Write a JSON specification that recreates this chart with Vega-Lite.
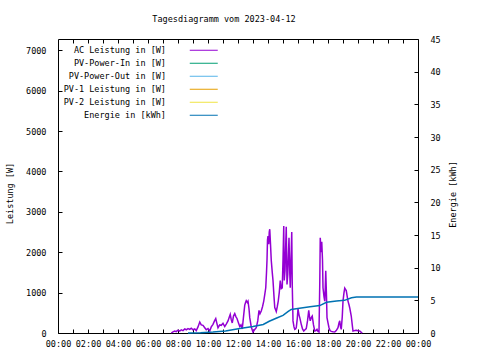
{
  "$schema": "https://vega.github.io/schema/vega-lite/v6.json",
  "width": 360,
  "height": 294,
  "autosize": {"type": "none"},
  "padding": {"left": 58, "top": 39, "right": 62, "bottom": 27},
  "background": "white",
  "title": {"text": "Tagesdiagramm vom 2023-04-12", "anchor": "middle", "dx": -14, "offset": 12, "font": "DejaVu Sans Mono", "fontSize": 8.5, "fontWeight": "normal", "color": "black"},
  "datasets": {
    "power": [
      {"t": "2023-04-12T07:33", "v": 0, "s": "AC Leistung in [W]"},
      {"t": "2023-04-12T07:40", "v": 30, "s": "AC Leistung in [W]"},
      {"t": "2023-04-12T07:47", "v": 50, "s": "AC Leistung in [W]"},
      {"t": "2023-04-12T07:53", "v": 35, "s": "AC Leistung in [W]"},
      {"t": "2023-04-12T08:00", "v": 70, "s": "AC Leistung in [W]"},
      {"t": "2023-04-12T08:07", "v": 45, "s": "AC Leistung in [W]"},
      {"t": "2023-04-12T08:13", "v": 80, "s": "AC Leistung in [W]"},
      {"t": "2023-04-12T08:20", "v": 60, "s": "AC Leistung in [W]"},
      {"t": "2023-04-12T08:27", "v": 100, "s": "AC Leistung in [W]"},
      {"t": "2023-04-12T08:33", "v": 80, "s": "AC Leistung in [W]"},
      {"t": "2023-04-12T08:40", "v": 110, "s": "AC Leistung in [W]"},
      {"t": "2023-04-12T08:47", "v": 90, "s": "AC Leistung in [W]"},
      {"t": "2023-04-12T08:53", "v": 120, "s": "AC Leistung in [W]"},
      {"t": "2023-04-12T09:00", "v": 80, "s": "AC Leistung in [W]"},
      {"t": "2023-04-12T09:07", "v": 100, "s": "AC Leistung in [W]"},
      {"t": "2023-04-12T09:13", "v": 60, "s": "AC Leistung in [W]"},
      {"t": "2023-04-12T09:20", "v": 150, "s": "AC Leistung in [W]"},
      {"t": "2023-04-12T09:27", "v": 270, "s": "AC Leistung in [W]"},
      {"t": "2023-04-12T09:33", "v": 200, "s": "AC Leistung in [W]"},
      {"t": "2023-04-12T09:40", "v": 190, "s": "AC Leistung in [W]"},
      {"t": "2023-04-12T09:47", "v": 130, "s": "AC Leistung in [W]"},
      {"t": "2023-04-12T09:53", "v": 80, "s": "AC Leistung in [W]"},
      {"t": "2023-04-12T10:00", "v": 110, "s": "AC Leistung in [W]"},
      {"t": "2023-04-12T10:07", "v": 50, "s": "AC Leistung in [W]"},
      {"t": "2023-04-12T10:13", "v": 150, "s": "AC Leistung in [W]"},
      {"t": "2023-04-12T10:20", "v": 215, "s": "AC Leistung in [W]"},
      {"t": "2023-04-12T10:26", "v": 300, "s": "AC Leistung in [W]"},
      {"t": "2023-04-12T10:31", "v": 355, "s": "AC Leistung in [W]"},
      {"t": "2023-04-12T10:35", "v": 250, "s": "AC Leistung in [W]"},
      {"t": "2023-04-12T10:40", "v": 130, "s": "AC Leistung in [W]"},
      {"t": "2023-04-12T10:47", "v": 200, "s": "AC Leistung in [W]"},
      {"t": "2023-04-12T10:53", "v": 190, "s": "AC Leistung in [W]"},
      {"t": "2023-04-12T11:00", "v": 240, "s": "AC Leistung in [W]"},
      {"t": "2023-04-12T11:07", "v": 160, "s": "AC Leistung in [W]"},
      {"t": "2023-04-12T11:13", "v": 220, "s": "AC Leistung in [W]"},
      {"t": "2023-04-12T11:20", "v": 300, "s": "AC Leistung in [W]"},
      {"t": "2023-04-12T11:25", "v": 390, "s": "AC Leistung in [W]"},
      {"t": "2023-04-12T11:29", "v": 460, "s": "AC Leistung in [W]"},
      {"t": "2023-04-12T11:33", "v": 330, "s": "AC Leistung in [W]"},
      {"t": "2023-04-12T11:37", "v": 250, "s": "AC Leistung in [W]"},
      {"t": "2023-04-12T11:42", "v": 420, "s": "AC Leistung in [W]"},
      {"t": "2023-04-12T11:47", "v": 480, "s": "AC Leistung in [W]"},
      {"t": "2023-04-12T11:52", "v": 400, "s": "AC Leistung in [W]"},
      {"t": "2023-04-12T11:56", "v": 360, "s": "AC Leistung in [W]"},
      {"t": "2023-04-12T12:02", "v": 250, "s": "AC Leistung in [W]"},
      {"t": "2023-04-12T12:07", "v": 160, "s": "AC Leistung in [W]"},
      {"t": "2023-04-12T12:12", "v": 200, "s": "AC Leistung in [W]"},
      {"t": "2023-04-12T12:17", "v": 100, "s": "AC Leistung in [W]"},
      {"t": "2023-04-12T12:22", "v": 400, "s": "AC Leistung in [W]"},
      {"t": "2023-04-12T12:27", "v": 690, "s": "AC Leistung in [W]"},
      {"t": "2023-04-12T12:30", "v": 750, "s": "AC Leistung in [W]"},
      {"t": "2023-04-12T12:33", "v": 800, "s": "AC Leistung in [W]"},
      {"t": "2023-04-12T12:37", "v": 760, "s": "AC Leistung in [W]"},
      {"t": "2023-04-12T12:40", "v": 790, "s": "AC Leistung in [W]"},
      {"t": "2023-04-12T12:44", "v": 600, "s": "AC Leistung in [W]"},
      {"t": "2023-04-12T12:47", "v": 380, "s": "AC Leistung in [W]"},
      {"t": "2023-04-12T12:53", "v": 150, "s": "AC Leistung in [W]"},
      {"t": "2023-04-12T13:00", "v": 25, "s": "AC Leistung in [W]"},
      {"t": "2023-04-12T13:06", "v": 80, "s": "AC Leistung in [W]"},
      {"t": "2023-04-12T13:13", "v": 130, "s": "AC Leistung in [W]"},
      {"t": "2023-04-12T13:19", "v": 300, "s": "AC Leistung in [W]"},
      {"t": "2023-04-12T13:24", "v": 560, "s": "AC Leistung in [W]"},
      {"t": "2023-04-12T13:28", "v": 480, "s": "AC Leistung in [W]"},
      {"t": "2023-04-12T13:33", "v": 545, "s": "AC Leistung in [W]"},
      {"t": "2023-04-12T13:38", "v": 650, "s": "AC Leistung in [W]"},
      {"t": "2023-04-12T13:43", "v": 790, "s": "AC Leistung in [W]"},
      {"t": "2023-04-12T13:47", "v": 950, "s": "AC Leistung in [W]"},
      {"t": "2023-04-12T13:51", "v": 1120, "s": "AC Leistung in [W]"},
      {"t": "2023-04-12T13:54", "v": 1500, "s": "AC Leistung in [W]"},
      {"t": "2023-04-12T13:56", "v": 1800, "s": "AC Leistung in [W]"},
      {"t": "2023-04-12T13:58", "v": 2300, "s": "AC Leistung in [W]"},
      {"t": "2023-04-12T14:00", "v": 2400, "s": "AC Leistung in [W]"},
      {"t": "2023-04-12T14:03", "v": 2200, "s": "AC Leistung in [W]"},
      {"t": "2023-04-12T14:05", "v": 2500, "s": "AC Leistung in [W]"},
      {"t": "2023-04-12T14:07", "v": 2570, "s": "AC Leistung in [W]"},
      {"t": "2023-04-12T14:10", "v": 2200, "s": "AC Leistung in [W]"},
      {"t": "2023-04-12T14:13", "v": 1800, "s": "AC Leistung in [W]"},
      {"t": "2023-04-12T14:17", "v": 1500, "s": "AC Leistung in [W]"},
      {"t": "2023-04-12T14:20", "v": 1300, "s": "AC Leistung in [W]"},
      {"t": "2023-04-12T14:24", "v": 900, "s": "AC Leistung in [W]"},
      {"t": "2023-04-12T14:27", "v": 630, "s": "AC Leistung in [W]"},
      {"t": "2023-04-12T14:30", "v": 580, "s": "AC Leistung in [W]"},
      {"t": "2023-04-12T14:33", "v": 530, "s": "AC Leistung in [W]"},
      {"t": "2023-04-12T14:37", "v": 650, "s": "AC Leistung in [W]"},
      {"t": "2023-04-12T14:41", "v": 790, "s": "AC Leistung in [W]"},
      {"t": "2023-04-12T14:45", "v": 1000, "s": "AC Leistung in [W]"},
      {"t": "2023-04-12T14:49", "v": 1300, "s": "AC Leistung in [W]"},
      {"t": "2023-04-12T14:53", "v": 1100, "s": "AC Leistung in [W]"},
      {"t": "2023-04-12T14:57", "v": 1120, "s": "AC Leistung in [W]"},
      {"t": "2023-04-12T15:00", "v": 1800, "s": "AC Leistung in [W]"},
      {"t": "2023-04-12T15:03", "v": 2650, "s": "AC Leistung in [W]"},
      {"t": "2023-04-12T15:05", "v": 1300, "s": "AC Leistung in [W]"},
      {"t": "2023-04-12T15:08", "v": 1540, "s": "AC Leistung in [W]"},
      {"t": "2023-04-12T15:10", "v": 2000, "s": "AC Leistung in [W]"},
      {"t": "2023-04-12T15:13", "v": 2630, "s": "AC Leistung in [W]"},
      {"t": "2023-04-12T15:16", "v": 1200, "s": "AC Leistung in [W]"},
      {"t": "2023-04-12T15:19", "v": 1450, "s": "AC Leistung in [W]"},
      {"t": "2023-04-12T15:22", "v": 2000, "s": "AC Leistung in [W]"},
      {"t": "2023-04-12T15:24", "v": 2360, "s": "AC Leistung in [W]"},
      {"t": "2023-04-12T15:27", "v": 1500, "s": "AC Leistung in [W]"},
      {"t": "2023-04-12T15:29", "v": 1120, "s": "AC Leistung in [W]"},
      {"t": "2023-04-12T15:32", "v": 1800, "s": "AC Leistung in [W]"},
      {"t": "2023-04-12T15:35", "v": 2500, "s": "AC Leistung in [W]"},
      {"t": "2023-04-12T15:37", "v": 1200, "s": "AC Leistung in [W]"},
      {"t": "2023-04-12T15:40", "v": 300, "s": "AC Leistung in [W]"},
      {"t": "2023-04-12T15:44", "v": 150, "s": "AC Leistung in [W]"},
      {"t": "2023-04-12T15:47", "v": 90, "s": "AC Leistung in [W]"},
      {"t": "2023-04-12T15:50", "v": 100, "s": "AC Leistung in [W]"},
      {"t": "2023-04-12T15:53", "v": 130, "s": "AC Leistung in [W]"},
      {"t": "2023-04-12T15:57", "v": 350, "s": "AC Leistung in [W]"},
      {"t": "2023-04-12T16:00", "v": 600, "s": "AC Leistung in [W]"},
      {"t": "2023-04-12T16:04", "v": 450, "s": "AC Leistung in [W]"},
      {"t": "2023-04-12T16:07", "v": 380, "s": "AC Leistung in [W]"},
      {"t": "2023-04-12T16:10", "v": 300, "s": "AC Leistung in [W]"},
      {"t": "2023-04-12T16:13", "v": 215, "s": "AC Leistung in [W]"},
      {"t": "2023-04-12T16:18", "v": 100, "s": "AC Leistung in [W]"},
      {"t": "2023-04-12T16:23", "v": 50, "s": "AC Leistung in [W]"},
      {"t": "2023-04-12T16:28", "v": 80, "s": "AC Leistung in [W]"},
      {"t": "2023-04-12T16:33", "v": 110, "s": "AC Leistung in [W]"},
      {"t": "2023-04-12T16:38", "v": 300, "s": "AC Leistung in [W]"},
      {"t": "2023-04-12T16:43", "v": 560, "s": "AC Leistung in [W]"},
      {"t": "2023-04-12T16:46", "v": 400, "s": "AC Leistung in [W]"},
      {"t": "2023-04-12T16:49", "v": 300, "s": "AC Leistung in [W]"},
      {"t": "2023-04-12T16:53", "v": 380, "s": "AC Leistung in [W]"},
      {"t": "2023-04-12T16:57", "v": 420, "s": "AC Leistung in [W]"},
      {"t": "2023-04-12T17:02", "v": 200, "s": "AC Leistung in [W]"},
      {"t": "2023-04-12T17:07", "v": 50, "s": "AC Leistung in [W]"},
      {"t": "2023-04-12T17:12", "v": 60, "s": "AC Leistung in [W]"},
      {"t": "2023-04-12T17:16", "v": 90, "s": "AC Leistung in [W]"},
      {"t": "2023-04-12T17:20", "v": 40, "s": "AC Leistung in [W]"},
      {"t": "2023-04-12T17:24", "v": 25, "s": "AC Leistung in [W]"},
      {"t": "2023-04-12T17:27", "v": 1200, "s": "AC Leistung in [W]"},
      {"t": "2023-04-12T17:29", "v": 2360, "s": "AC Leistung in [W]"},
      {"t": "2023-04-12T17:32", "v": 2000, "s": "AC Leistung in [W]"},
      {"t": "2023-04-12T17:35", "v": 2260, "s": "AC Leistung in [W]"},
      {"t": "2023-04-12T17:38", "v": 1800, "s": "AC Leistung in [W]"},
      {"t": "2023-04-12T17:40", "v": 1120, "s": "AC Leistung in [W]"},
      {"t": "2023-04-12T17:44", "v": 900, "s": "AC Leistung in [W]"},
      {"t": "2023-04-12T17:47", "v": 790, "s": "AC Leistung in [W]"},
      {"t": "2023-04-12T17:49", "v": 1100, "s": "AC Leistung in [W]"},
      {"t": "2023-04-12T17:51", "v": 1540, "s": "AC Leistung in [W]"},
      {"t": "2023-04-12T17:54", "v": 900, "s": "AC Leistung in [W]"},
      {"t": "2023-04-12T17:56", "v": 380, "s": "AC Leistung in [W]"},
      {"t": "2023-04-12T18:00", "v": 250, "s": "AC Leistung in [W]"},
      {"t": "2023-04-12T18:04", "v": 130, "s": "AC Leistung in [W]"},
      {"t": "2023-04-12T18:08", "v": 60, "s": "AC Leistung in [W]"},
      {"t": "2023-04-12T18:13", "v": 40, "s": "AC Leistung in [W]"},
      {"t": "2023-04-12T18:20", "v": 30, "s": "AC Leistung in [W]"},
      {"t": "2023-04-12T18:27", "v": 25, "s": "AC Leistung in [W]"},
      {"t": "2023-04-12T18:33", "v": 60, "s": "AC Leistung in [W]"},
      {"t": "2023-04-12T18:40", "v": 130, "s": "AC Leistung in [W]"},
      {"t": "2023-04-12T18:44", "v": 250, "s": "AC Leistung in [W]"},
      {"t": "2023-04-12T18:47", "v": 300, "s": "AC Leistung in [W]"},
      {"t": "2023-04-12T18:50", "v": 150, "s": "AC Leistung in [W]"},
      {"t": "2023-04-12T18:53", "v": 90, "s": "AC Leistung in [W]"},
      {"t": "2023-04-12T18:57", "v": 400, "s": "AC Leistung in [W]"},
      {"t": "2023-04-12T19:00", "v": 790, "s": "AC Leistung in [W]"},
      {"t": "2023-04-12T19:04", "v": 1000, "s": "AC Leistung in [W]"},
      {"t": "2023-04-12T19:07", "v": 1110, "s": "AC Leistung in [W]"},
      {"t": "2023-04-12T19:10", "v": 1080, "s": "AC Leistung in [W]"},
      {"t": "2023-04-12T19:13", "v": 1050, "s": "AC Leistung in [W]"},
      {"t": "2023-04-12T19:17", "v": 900, "s": "AC Leistung in [W]"},
      {"t": "2023-04-12T19:20", "v": 790, "s": "AC Leistung in [W]"},
      {"t": "2023-04-12T19:24", "v": 700, "s": "AC Leistung in [W]"},
      {"t": "2023-04-12T19:27", "v": 620, "s": "AC Leistung in [W]"},
      {"t": "2023-04-12T19:30", "v": 520, "s": "AC Leistung in [W]"},
      {"t": "2023-04-12T19:33", "v": 420, "s": "AC Leistung in [W]"},
      {"t": "2023-04-12T19:37", "v": 200, "s": "AC Leistung in [W]"},
      {"t": "2023-04-12T19:40", "v": 50, "s": "AC Leistung in [W]"},
      {"t": "2023-04-12T19:47", "v": 60, "s": "AC Leistung in [W]"},
      {"t": "2023-04-12T19:53", "v": 70, "s": "AC Leistung in [W]"},
      {"t": "2023-04-12T20:00", "v": 55, "s": "AC Leistung in [W]"},
      {"t": "2023-04-12T20:07", "v": 50, "s": "AC Leistung in [W]"},
      {"t": "2023-04-12T20:12", "v": 20, "s": "AC Leistung in [W]"},
      {"t": "2023-04-12T20:17", "v": 0, "s": "AC Leistung in [W]"}
    ],
    "energy": [
      {"t": "2023-04-12T08:40", "v": 0, "s": "Energie in [kWh]"},
      {"t": "2023-04-12T09:30", "v": 0.05, "s": "Energie in [kWh]"},
      {"t": "2023-04-12T10:20", "v": 0.15, "s": "Energie in [kWh]"},
      {"t": "2023-04-12T11:10", "v": 0.3, "s": "Energie in [kWh]"},
      {"t": "2023-04-12T12:07", "v": 0.7, "s": "Energie in [kWh]"},
      {"t": "2023-04-12T13:00", "v": 1.0, "s": "Energie in [kWh]"},
      {"t": "2023-04-12T13:41", "v": 1.3, "s": "Energie in [kWh]"},
      {"t": "2023-04-12T14:05", "v": 1.8, "s": "Energie in [kWh]"},
      {"t": "2023-04-12T14:35", "v": 2.3, "s": "Energie in [kWh]"},
      {"t": "2023-04-12T15:00", "v": 2.7, "s": "Energie in [kWh]"},
      {"t": "2023-04-12T15:21", "v": 3.3, "s": "Energie in [kWh]"},
      {"t": "2023-04-12T15:33", "v": 3.6, "s": "Energie in [kWh]"},
      {"t": "2023-04-12T16:06", "v": 3.8, "s": "Energie in [kWh]"},
      {"t": "2023-04-12T16:48", "v": 4.0, "s": "Energie in [kWh]"},
      {"t": "2023-04-12T17:27", "v": 4.2, "s": "Energie in [kWh]"},
      {"t": "2023-04-12T17:54", "v": 4.7, "s": "Energie in [kWh]"},
      {"t": "2023-04-12T18:34", "v": 4.9, "s": "Energie in [kWh]"},
      {"t": "2023-04-12T19:06", "v": 5.0, "s": "Energie in [kWh]"},
      {"t": "2023-04-12T19:34", "v": 5.4, "s": "Energie in [kWh]"},
      {"t": "2023-04-12T19:54", "v": 5.5, "s": "Energie in [kWh]"},
      {"t": "2023-04-13T00:00", "v": 5.5, "s": "Energie in [kWh]"}
    ]
  },
  "config": {
    "view": {"stroke": "black", "strokeWidth": 1},
    "font": "DejaVu Sans Mono",
    "axis": {
      "labelFont": "DejaVu Sans Mono", "labelFontSize": 8.5, "labelColor": "black",
      "titleFont": "DejaVu Sans Mono", "titleFontSize": 8.5, "titleFontWeight": "normal", "titleColor": "black",
      "domain": false, "grid": false, "tickColor": "black", "tickSize": -4, "labelOverlap": false, "labelFlush": false
    }
  },
  "layer": [
    {
      "data": {"name": "power"},
      "mark": {"type": "line", "strokeWidth": 1.5},
      "encoding": {
        "x": {
          "field": "t", "type": "temporal",
          "scale": {"domain": [{"year": 2023, "month": 4, "date": 12, "hours": 0}, {"year": 2023, "month": 4, "date": 13, "hours": 0}]},
          "axis": {
            "orient": "bottom", "title": null, "labelPadding": 10,
            "values": [
              {"year": 2023, "month": 4, "date": 12, "hours": 0}, {"year": 2023, "month": 4, "date": 12, "hours": 1},
              {"year": 2023, "month": 4, "date": 12, "hours": 2}, {"year": 2023, "month": 4, "date": 12, "hours": 3},
              {"year": 2023, "month": 4, "date": 12, "hours": 4}, {"year": 2023, "month": 4, "date": 12, "hours": 5},
              {"year": 2023, "month": 4, "date": 12, "hours": 6}, {"year": 2023, "month": 4, "date": 12, "hours": 7},
              {"year": 2023, "month": 4, "date": 12, "hours": 8}, {"year": 2023, "month": 4, "date": 12, "hours": 9},
              {"year": 2023, "month": 4, "date": 12, "hours": 10}, {"year": 2023, "month": 4, "date": 12, "hours": 11},
              {"year": 2023, "month": 4, "date": 12, "hours": 12}, {"year": 2023, "month": 4, "date": 12, "hours": 13},
              {"year": 2023, "month": 4, "date": 12, "hours": 14}, {"year": 2023, "month": 4, "date": 12, "hours": 15},
              {"year": 2023, "month": 4, "date": 12, "hours": 16}, {"year": 2023, "month": 4, "date": 12, "hours": 17},
              {"year": 2023, "month": 4, "date": 12, "hours": 18}, {"year": 2023, "month": 4, "date": 12, "hours": 19},
              {"year": 2023, "month": 4, "date": 12, "hours": 20}, {"year": 2023, "month": 4, "date": 12, "hours": 21},
              {"year": 2023, "month": 4, "date": 12, "hours": 22}, {"year": 2023, "month": 4, "date": 12, "hours": 23},
              {"year": 2023, "month": 4, "date": 13, "hours": 0}
            ],
            "labelExpr": "hours(datum.value) % 2 == 0 ? timeFormat(datum.value, '%H:%M') : ''"
          }
        },
        "y": {
          "field": "v", "type": "quantitative",
          "scale": {"domain": [0, 7280], "nice": false, "zero": true},
          "axis": {
            "orient": "left", "title": "Leistung [W]", "values": [0, 1000, 2000, 3000, 4000, 5000, 6000, 7000], "format": "d",
            "labelPadding": 16, "titleX": -49, "titleY": 154, "titleAngle": 270, "titleBaseline": "middle", "titleAlign": "center"
          }
        },
        "color": {
          "field": "s", "type": "nominal",
          "scale": {
            "domain": ["AC Leistung in [W]", "PV-Power-In in [W]", "PV-Power-Out in [W]", "PV-1 Leistung in [W]", "PV-2 Leistung in [W]", "Energie in [kWh]"],
            "range": ["#9400d3", "#009e73", "#56b4e9", "#e69f00", "#f0e442", "#0072b2"]
          },
          "legend": {
            "orient": "none", "legendX": 100, "legendY": 7, "title": null, "padding": 0,
            "labelAlign": "right", "labelOffset": -42, "symbolOffset": 41.5,
            "symbolType": "M-5,0H5", "symbolSize": 31.36, "symbolStrokeWidth": 1,
            "rowPadding": 4, "labelFont": "DejaVu Sans Mono", "labelFontSize": 8.5, "labelColor": "black", "labelLimit": 300
          }
        }
      }
    },
    {
      "data": {"name": "energy"},
      "mark": {"type": "line", "strokeWidth": 1.5},
      "encoding": {
        "x": {
          "field": "t", "type": "temporal",
          "axis": {
            "orient": "top", "title": null, "labels": false,
            "values": [
              {"year": 2023, "month": 4, "date": 12, "hours": 1},
              {"year": 2023, "month": 4, "date": 12, "hours": 2}, {"year": 2023, "month": 4, "date": 12, "hours": 3},
              {"year": 2023, "month": 4, "date": 12, "hours": 4}, {"year": 2023, "month": 4, "date": 12, "hours": 5},
              {"year": 2023, "month": 4, "date": 12, "hours": 6}, {"year": 2023, "month": 4, "date": 12, "hours": 7},
              {"year": 2023, "month": 4, "date": 12, "hours": 8}, {"year": 2023, "month": 4, "date": 12, "hours": 9},
              {"year": 2023, "month": 4, "date": 12, "hours": 10}, {"year": 2023, "month": 4, "date": 12, "hours": 11},
              {"year": 2023, "month": 4, "date": 12, "hours": 12}, {"year": 2023, "month": 4, "date": 12, "hours": 13},
              {"year": 2023, "month": 4, "date": 12, "hours": 14}, {"year": 2023, "month": 4, "date": 12, "hours": 15},
              {"year": 2023, "month": 4, "date": 12, "hours": 16}, {"year": 2023, "month": 4, "date": 12, "hours": 17},
              {"year": 2023, "month": 4, "date": 12, "hours": 18}, {"year": 2023, "month": 4, "date": 12, "hours": 19},
              {"year": 2023, "month": 4, "date": 12, "hours": 20}, {"year": 2023, "month": 4, "date": 12, "hours": 21},
              {"year": 2023, "month": 4, "date": 12, "hours": 22}, {"year": 2023, "month": 4, "date": 12, "hours": 23}
            ]
          }
        },
        "y": {
          "field": "v", "type": "quantitative",
          "scale": {"domain": [0, 45], "nice": false, "zero": true},
          "axis": {
            "orient": "right", "title": "Energie [kWh]", "values": [0, 5, 10, 15, 20, 25, 30, 35, 40, 45],
            "labelPadding": 16, "labelAlign": "left", "titleX": 34, "titleY": 155, "titleAngle": 270, "titleBaseline": "middle", "titleAlign": "center"
          }
        },
        "color": {"field": "s", "type": "nominal"}
      }
    }
  ],
  "resolve": {"scale": {"y": "independent"}, "axis": {"x": "independent"}}
}
